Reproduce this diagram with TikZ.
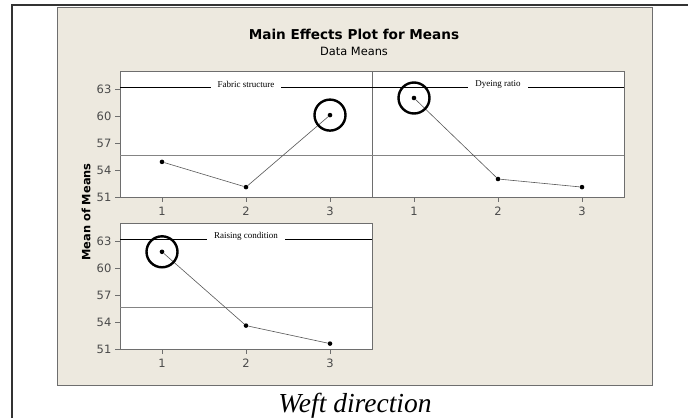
\documentclass[tikz,border=0pt]{standalone}
\usepackage{fontspec}
\setmainfont{Liberation Serif}
\newfontfamily\mtabfont{DejaVu Sans}
\usetikzlibrary{positioning}
\definecolor{PanelBeige}{HTML}{EDE9DF}
\definecolor{FrameGray} {HTML}{6E6E6E}
\definecolor{TickGray}  {HTML}{4A4A4A}
\tikzset{
  plotbox/.style={draw=FrameGray,fill=white,line width=0.9pt},
  meanline/.style={draw=FrameGray!85,line width=0.6pt},
  stripline/.style={draw=black,line width=0.6pt},
  striplab/.style={fill=white,inner xsep=7pt,inner ysep=1pt,yshift=3pt,
                   font=\fontsize{9}{10}\selectfont},
  dot/.style={circle,fill=black,inner sep=0pt,minimum size=4.6pt},
  dataline/.style={draw=black!65,line width=0.6pt},
  ring/.style={circle,draw=black,line width=2.4pt,minimum size=31pt,inner sep=0pt},
  ticklab/.style={font=\mtabfont\fontsize{11.5}{12}\selectfont,text=TickGray},
  tickmark/.style={draw=FrameGray,line width=0.6pt},
}

\begin{document}
\begin{tikzpicture}[x=1pt,y=-1pt]

  \useasboundingbox (0,0) rectangle (688,418);
  \fill[white] (0,0) rectangle (688,418);
  \draw[line width=1.8pt,black!80] (12,418) -- (12,5) -- (688,5);
  \draw[fill=PanelBeige,draw=FrameGray,line width=1pt] (57,7) rectangle (652,385);

  \node[font=\mtabfont\bfseries\fontsize{13.6}{15}\selectfont] (title) at (354,34)
    {Main Effects Plot for Means};
  \node[font=\mtabfont\fontsize{11.4}{13}\selectfont] (subtitle) at (354,51)
    {Data Means};
  \node[font=\mtabfont\bfseries\fontsize{11.4}{13}\selectfont,rotate=90] (ylab)
    at (86,212) {Mean of Means};

  % Fabric structure
  \begin{scope}[shift={(78,656)},x=84pt,y=9pt]
    \draw[plotbox] (0.5,50.9) rectangle (3.5,64.9);
    \draw[meanline] (0.5,55.68) -- (3.5,55.68);
    \draw[stripline] (0.5,63.2) -- (3.5,63.2);
    \node[striplab] (fslab) at (2,63.2) {Fabric structure};
    \foreach \v in {51,54,...,63}
      \draw[tickmark] (0.5,\v) -- ++(-5pt,0) node[ticklab,left=0pt] {\v};
    \foreach \k in {1,2,3}
      \draw[tickmark] (\k,50.9) -- ++(0,-4pt) node[ticklab,below=1.5pt] {\k};
    \node[dot] (fsA) at (1,54.9) {};
    \node[dot] (fsB) at (2,52.1) {};
    \node[dot] (fsC) at (3,60.1) {};
    \draw[dataline] (fsA) -- (fsB) -- (fsC);
    \node[ring] (fsring) at (fsC) {};
  \end{scope}

  % Dyeing ratio
  \begin{scope}[shift={(330,656)},x=84pt,y=9pt]
    \draw[plotbox] (0.5,50.9) rectangle (3.5,64.9);
    \draw[meanline] (0.5,55.68) -- (3.5,55.68);
    \draw[stripline] (0.5,63.2) -- (3.5,63.2);
    \node[striplab] (drlab) at (2,63.2) {Dyeing ratio};
    \foreach \k in {1,2,3}
      \draw[tickmark] (\k,50.9) -- ++(0,-4pt) node[ticklab,below=1.5pt] {\k};
    \node[dot] (drA) at (1,62.0) {};
    \node[dot] (drB) at (2,53.0) {};
    \node[dot] (drC) at (3,52.1) {};
    \draw[dataline] (drA) -- (drB) -- (drC);
    \node[ring] (drring) at (drA) {};
  \end{scope}

  % Raising condition
  \begin{scope}[shift={(78,808)},x=84pt,y=9pt]
    \draw[plotbox] (0.5,50.9) rectangle (3.5,64.9);
    \draw[meanline] (0.5,55.68) -- (3.5,55.68);
    \draw[stripline] (0.5,63.2) -- (3.5,63.2);
    \node[striplab] (rclab) at (2,63.2) {Raising condition};
    \foreach \v in {51,54,...,63}
      \draw[tickmark] (0.5,\v) -- ++(-5pt,0) node[ticklab,left=0pt] {\v};
    \foreach \k in {1,2,3}
      \draw[tickmark] (\k,50.9) -- ++(0,-4pt) node[ticklab,below=1.5pt] {\k};
    \node[dot] (rcA) at (1,61.8) {};
    \node[dot] (rcB) at (2,53.6) {};
    \node[dot] (rcC) at (3,51.6) {};
    \draw[dataline] (rcA) -- (rcB) -- (rcC);
    \node[ring] (rcring) at (rcA) {};
  \end{scope}

  \node[anchor=base,font=\itshape\fontsize{27.5}{30}\selectfont] (caption)
    at (355,412) {Weft direction};

\end{tikzpicture}
\end{document}
